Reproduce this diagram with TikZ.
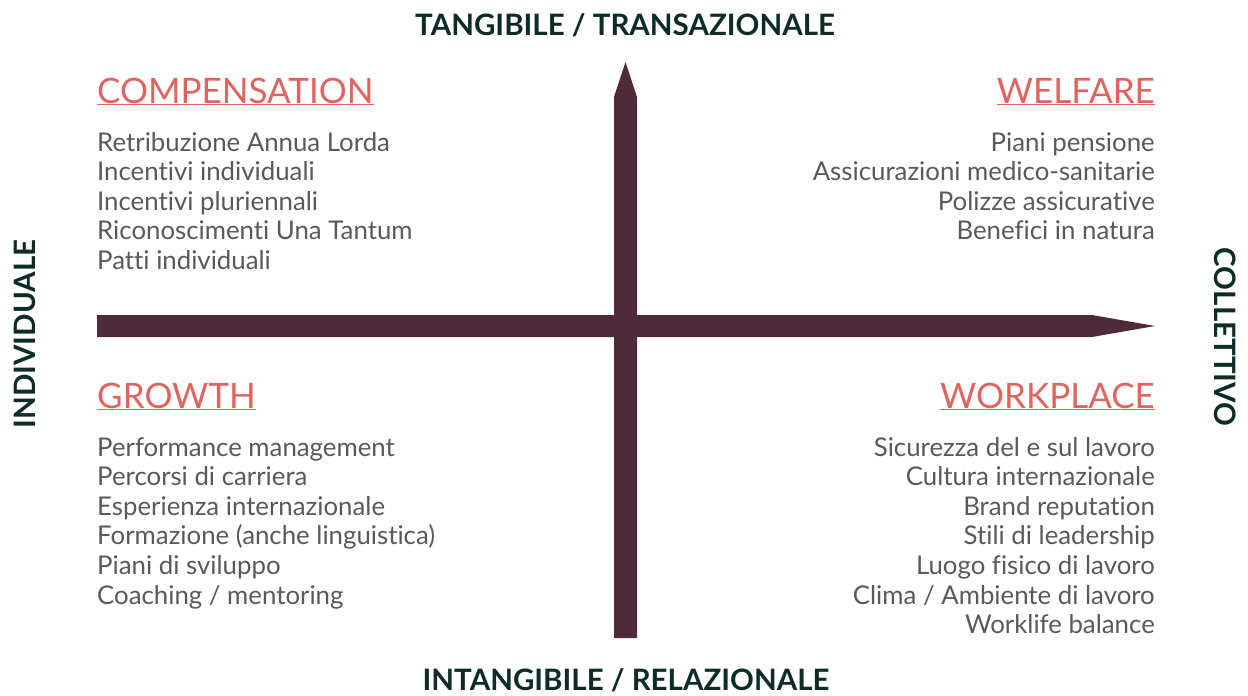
\documentclass[tikz,border=0pt]{standalone}
\usepackage{fontspec}
\setmainfont{Lato}[Ligatures=NoCommon]
\definecolor{barcol}{HTML}{4F2A3A}
\definecolor{headcol}{HTML}{E0635F}
\definecolor{axiscol}{HTML}{0D2B27}
\definecolor{itemcol}{HTML}{595959}
\tikzset{
  axislabel/.style={font=\fontsize{29.5}{32}\selectfont\bfseries, text=axiscol, inner sep=0pt},
  quadhead/.style={font=\fontsize{35}{38}\selectfont, text=headcol, inner sep=0pt},
  item/.style={font=\fontsize{25.8}{29}\selectfont, text=itemcol, inner sep=0pt},
  bar/.style={fill=barcol, draw=none}
}
\newcommand{\uline}[1]{\underline{#1}}
\begin{document}
\begin{tikzpicture}[x=1pt, y=-1pt]
\useasboundingbox (0,0) rectangle (1248,696);

% Axes
\fill[bar] (614,638) -- (637,638) -- (637,97) -- (625.5,62) -- (614,97) -- cycle;
\fill[bar] (97,315) -- (1092,315) -- (1155,326) -- (1092,337) -- (97,337) -- cycle;

% Axis labels
\node[axislabel] (top) at (625,25) {TANGIBILE / TRANSAZIONALE};
\node[axislabel] (bottom) at (626,680) {INTANGIBILE / RELAZIONALE};
\node[axislabel, rotate=90] (left) at (25,334) {INDIVIDUALE};
\node[axislabel, rotate=-90] (right) at (1225,337) {COLLETTIVO};

% Quadrant headings
\node[quadhead, anchor=base west] (comp) at (97,103) {\uline{COMPENSATION}};
\node[quadhead, anchor=base east] (welf) at (1155,103) {\uline{WELFARE}};
\node[quadhead, anchor=base west] (grow) at (97,408) {\uline{GROWTH}};
\node[quadhead, anchor=base east] (work) at (1155,408) {\uline{WORKPLACE}};

% Quadrant items
\foreach \t [count=\i] in {Retribuzione Annua Lorda, Incentivi individuali,
  Incentivi pluriennali, Riconoscimenti Una Tantum, Patti individuali}
  \node[item, anchor=base west] (comp\i) at (97,{151+29.6*(\i-1)}) {\t};
\foreach \t [count=\i] in {Piani pensione, Assicurazioni medico-sanitarie,
  Polizze assicurative, Benefici in natura}
  \node[item, anchor=base east] (welf\i) at (1155,{151+29.6*(\i-1)}) {\t};
\foreach \t [count=\i] in {Performance management, Percorsi di carriera,
  Esperienza internazionale, Formazione (anche linguistica),
  Piani di sviluppo, Coaching / mentoring}
  \node[item, anchor=base west] (grow\i) at (97,{456+29.6*(\i-1)}) {\t};
\foreach \t [count=\i] in {Sicurezza del e sul lavoro, Cultura internazionale,
  Brand reputation, Stili di leadership, Luogo fisico di lavoro,
  Clima / Ambiente di lavoro, Worklife balance}
  \node[item, anchor=base east] (work\i) at (1155,{456+29.6*(\i-1)}) {\t};
\end{tikzpicture}
\end{document}
